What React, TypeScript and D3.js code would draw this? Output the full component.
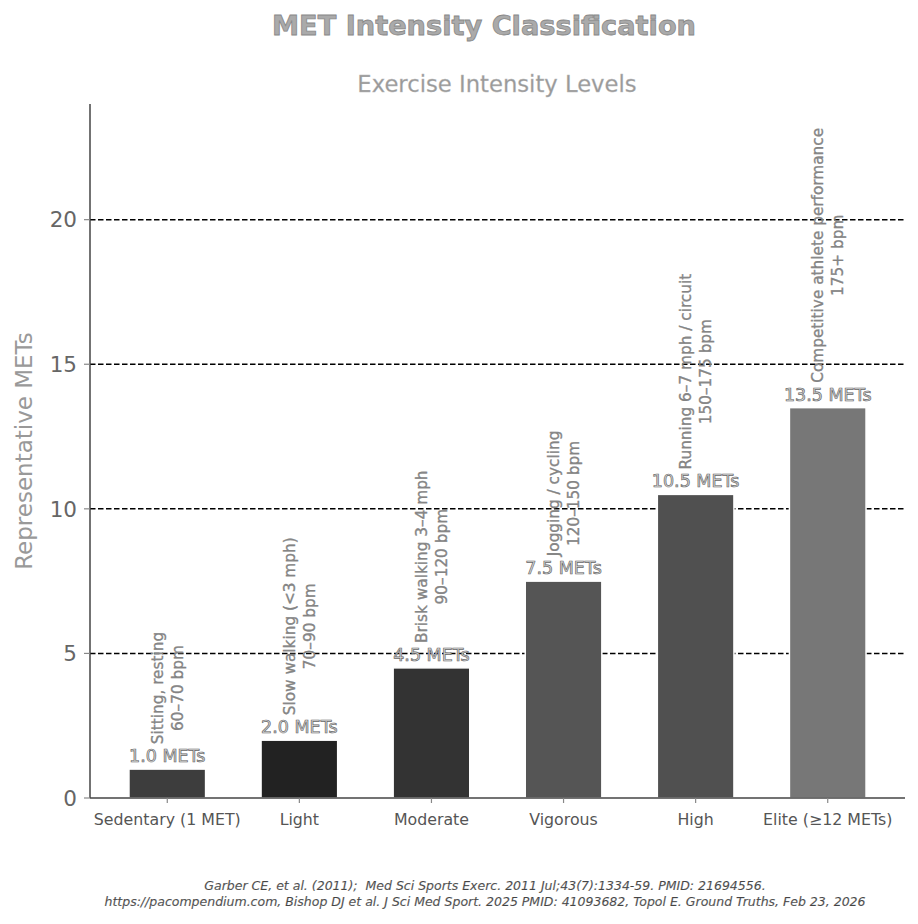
import * as d3 from "d3";

const categories = ["Sedentary (1 MET)", "Light", "Moderate", "Vigorous", "High", "Elite (≥12 METs)"];
const mets = [1.0, 2.0, 4.5, 7.5, 10.5, 13.5];
const activities = [
  "Sitting, resting",
  "Slow walking (<3 mph)",
  "Brisk walking 3–4 mph",
  "Jogging / cycling",
  "Running 6–7 mph / circuit",
  "Competitive athlete performance",
];
const heartRates = ["60–70 bpm", "70–90 bpm", "90–120 bpm", "120–150 bpm", "150–175 bpm", "175+ bpm"];
const barColors = ["#3d3d3d", "#222222", "#333333", "#555555", "#505050", "#777777"];
const yTicks = [0, 5, 10, 15, 20];
const footer = [
  "Garber CE, et al. (2011);  Med Sci Sports Exerc. 2011 Jul;43(7):1334-59. PMID: 21694556.",
  "https://pacompendium.com, Bishop DJ et al. J Sci Med Sport. 2025 PMID: 41093682, Topol E. Ground Truths, Feb 23, 2026",
];

const W = 918;
const H = 924;
const margin = { top: 104, right: 13, bottom: 126, left: 90 };
const FONT = "DejaVu Sans, sans-serif";

let ctx: CanvasRenderingContext2D | null = null;
function textWidth(s: string, size: number) {
  if (!ctx) ctx = document.createElement("canvas").getContext("2d");
  if (!ctx) return s.length * size * 0.55;
  ctx.font = `${size}px "DejaVu Sans"`;
  return ctx.measureText(s).width;
}

export default function App() {
  const x = d3.scaleLinear().domain([-0.585, 5.585]).range([margin.left, W - margin.right]);
  const y = d3.scaleLinear().domain([0, 24]).range([H - margin.bottom, margin.top]);
  const barW = x(0.58) - x(0);
  const annSize = 15.3;

  return (
    <svg width={W} height={H} style={{ position: "absolute", left: 0, top: 0, background: "#fff" }} fontFamily={FONT}>
      {/* titles */}
      <text x={484} y={35} textAnchor="middle" fontSize={27.2} fontWeight="bold" fill="#aaa" stroke="#888" strokeWidth={0.8}>
        MET Intensity Classification
      </text>
      <text x={497} y={92} textAnchor="middle" fontSize={22.7} fill="#999" stroke="#bbb" strokeWidth={0.3}>
        Exercise Intensity Levels
      </text>

      {/* grid */}
      {yTicks.filter(t => t > 0).map(t => (
        <line key={t} x1={margin.left} x2={W - margin.right} y1={y(t)} y2={y(t)}
          stroke="#000" strokeWidth={1.5} strokeDasharray="5.5,2.5" />
      ))}

      {/* bars */}
      {mets.map((v, i) => (
        <rect key={i} x={x(i) - barW / 2} y={y(v)} width={barW} height={y(0) - y(v)}
          fill={barColors[i]} stroke="#fff" strokeWidth={1.5} />
      ))}

      {/* spines */}
      <line x1={margin.left} x2={margin.left} y1={margin.top} y2={y(0)} stroke="#444" strokeWidth={1.5} />
      <line x1={margin.left} x2={W - margin.right} y1={y(0)} y2={y(0)} stroke="#444" strokeWidth={1.5} />

      {/* y axis ticks */}
      {yTicks.map(t => (
        <g key={t}>
          <line x1={margin.left - 6} x2={margin.left} y1={y(t)} y2={y(t)} stroke="#888" strokeWidth={1.2} />
          <text x={margin.left - 13} y={y(t)} dy="0.36em" textAnchor="end" fontSize={21.5} fill="#666">{t}</text>
        </g>
      ))}
      <text transform={`translate(32,${(margin.top + y(0)) / 2}) rotate(-90)`} textAnchor="middle" fontSize={23} fill="#999">
        Representative METs
      </text>

      {/* x axis ticks */}
      {categories.map((c, i) => (
        <g key={c}>
          <line x1={x(i)} x2={x(i)} y1={y(0)} y2={y(0) + 5} stroke="#888" strokeWidth={1.2} />
          <text x={x(i)} y={y(0) + 27} textAnchor="middle" fontSize={15.8} fill="#555">{c}</text>
        </g>
      ))}

      {/* value labels */}
      {mets.map((v, i) => (
        <text key={i} x={x(i)} y={y(v) - 7} textAnchor="middle" fontSize={17.5} fill="#ddd" stroke="#666" strokeWidth={0.7}>
          {v.toFixed(1)} METs
        </text>
      ))}

      {/* rotated annotations */}
      {mets.map((v, i) => {
        const lines = [activities[i], heartRates[i]];
        const maxLen = Math.max(...lines.map(l => textWidth(l, annSize)));
        return (
          <text key={i} transform={`translate(${x(i)},${y(v + 1) + 4}) rotate(-90)`} fontSize={annSize}
            fill="#888" stroke="#777" strokeWidth={0.3} textAnchor="middle">
            {lines.map((l, j) => (
              <tspan key={j} x={maxLen / 2} y={(j - 0.5) * 20.5 + 5.5}>{l}</tspan>
            ))}
          </text>
        );
      })}

      {/* footer */}
      {footer.map((f, i) => (
        <text key={i} x={485} y={890 + i * 15.5} textAnchor="middle" fontSize={12.5} fontStyle="italic"
          fill="#444" stroke="#999" strokeWidth={0.2} style={{ whiteSpace: "pre" }}>
          {f}
        </text>
      ))}
    </svg>
  );
}
